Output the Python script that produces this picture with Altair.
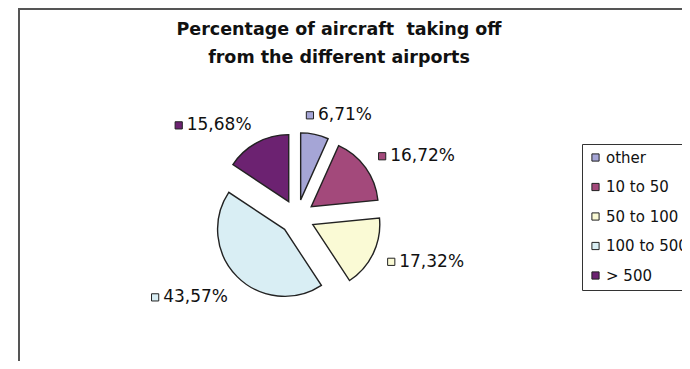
import altair as alt
import pandas as pd

categories = ["other", "10 to 50", "50 to 100", "100 to 500", "> 500"]
shares = [6.71, 16.72, 17.32, 43.57, 15.68]
colors = ["#a5a5d6", "#a3497b", "#fafad5", "#d9eef4", "#6c2271"]
title_lines = ["Percentage of aircraft\u00a0 taking off", "from the different airports"]

labels = [f"{v:.2f}".replace(".", ",") + "%" for v in shares]
df = pd.DataFrame({"cat": categories, "share": shares, "order": list(range(len(shares))), "label": labels})

CX, CY, R, D = 289, 209, 67, 17.5

legend = alt.Legend(
    orient="none", legendX=574, legendY=136, title=None,
    symbolType="square", symbolSize=52, symbolStrokeColor="#222", symbolStrokeWidth=1,
    labelFont="DejaVu Sans", labelFontSize=15, labelColor="#111", labelOffset=3,
    rowPadding=13.5, padding=6, strokeColor="#333", fillColor="white",
)
color = alt.Color("cat:N", sort=categories,
                  scale=alt.Scale(domain=categories, range=colors), legend=legend)

base = (
    alt.Chart(df)
    .transform_window(cum="sum(share)", sort=[alt.SortField("order")], frame=[None, 0])
    .transform_joinaggregate(total="sum(share)")
    .transform_calculate(start="(datum.cum - datum.share) / datum.total * 2 * PI")
    .transform_calculate(end="datum.cum / datum.total * 2 * PI")
    .transform_calculate(mid="(datum.start + datum.end) / 2")
    .transform_calculate(px=f"{CX} + {D} * sin(datum.mid)")
    .transform_calculate(py=f"{CY} - {D} * cos(datum.mid)")
    .transform_calculate(W="12 + 10.5 * length(datum.label)")
    .transform_calculate(bx=f"{CX} + 100 * sin(datum.mid) + clamp(3 * sin(datum.mid), -1, 1) * datum.W / 2")
    .transform_calculate(by=f"{CY} - 104 * cos(datum.mid) + 14 * max(0, -sin(datum.mid)) * max(0, -cos(datum.mid))")
    .transform_calculate(sqx="datum.bx - datum.W / 2 + 4")
    .transform_calculate(tx="datum.bx - datum.W / 2 + 12")
)

arcs = base.mark_arc(outerRadius=R, stroke="#222", strokeWidth=1.4).encode(
    theta=alt.Theta("start:Q", scale=None, stack=None),
    theta2="end:Q",
    x=alt.X("px:Q", scale=None),
    y=alt.Y("py:Q", scale=None),
    color=color,
)

squares = base.mark_square(size=52, stroke="#222", strokeWidth=1, opacity=1).encode(
    x=alt.X("sqx:Q", scale=None),
    y=alt.Y("by:Q", scale=None),
    color=color,
)

texts = base.mark_text(align="left", baseline="middle", font="DejaVu Sans", fontSize=17, color="#111").encode(
    x=alt.X("tx:Q", scale=None),
    y=alt.Y("by:Q", scale=None),
    text="label:N",
)

tdf = pd.DataFrame({"t": title_lines, "i": list(range(len(title_lines)))})
title = (
    alt.Chart(tdf)
    .transform_calculate(ty="22 + datum.i * 28")
    .mark_text(align="center", baseline="middle", font="DejaVu Sans", fontSize=17.5, fontWeight="bold", color="#111")
    .encode(x=alt.value(331), y=alt.Y("ty:Q", scale=None), text="t:N")
)

one = pd.DataFrame({"a": [0]})
frame_left = alt.Chart(one).mark_rule(color="#555", strokeWidth=2).encode(
    x=alt.value(11), y=alt.value(0), y2=alt.value(353))
frame_top = alt.Chart(one).mark_rule(color="#555", strokeWidth=2).encode(
    x=alt.value(10), x2=alt.value(674), y=alt.value(1))

chart = (
    alt.layer(frame_left, frame_top, arcs, squares, texts, title)
    .properties(width=674, height=353, padding=0, autosize="none")
    .configure_view(stroke=None)
)

chart.save("out.html", embed_options={"renderer": "svg", "actions": False})
